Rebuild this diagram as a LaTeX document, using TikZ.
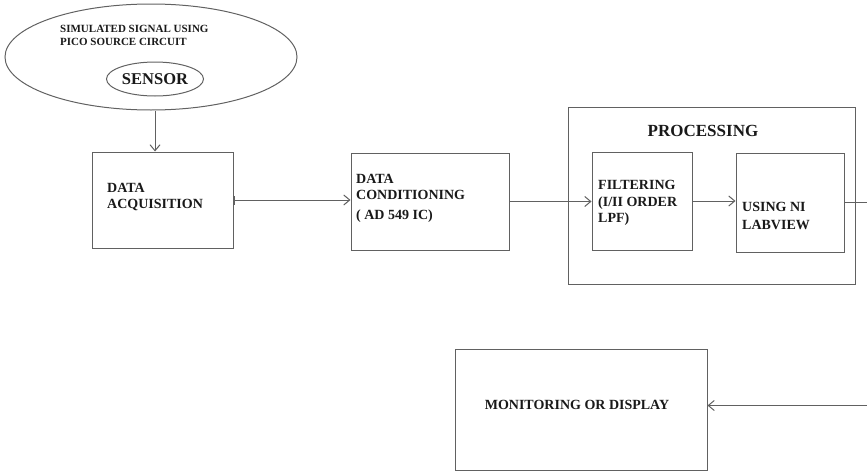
\documentclass[tikz,border=0pt]{standalone}
\usepackage{fontspec}
\setmainfont{Liberation Serif}
\usetikzlibrary{arrows.meta, shapes.geometric, positioning}

\begin{document}
\begin{tikzpicture}
    [x=1pt, y=-1pt,
    every node/.style={text=black!90},
    conn/.style={draw=black!62, line width=1pt},
    blockbox/.style={conn, rectangle, inner sep=0pt},
    boxtext/.style={anchor=west, align=left, inner sep=0pt, font=\fontsize{14}{16.5}\selectfont\bfseries},
    arr/.style={conn, -{Straight Barb[length=6pt, width=10pt]}},
    bararr/.style={conn, {Bar[width=9pt]}-{Straight Barb[length=6pt, width=10pt]}}]
    \useasboundingbox (0,0) rectangle (867,471);
    \clip (0,0) rectangle (867,471);
    % source ellipses
    \node[conn, ellipse, minimum width=292pt, minimum height=106pt] (src) at (151,57) {};
    \node[boxtext, font=\fontsize{11}{13}\selectfont\bfseries] (srctxt) at (60,35.5) {SIMULATED SIGNAL USING\\PICO SOURCE CIRCUIT};
    \node[conn, ellipse, minimum width=97pt, minimum height=34pt, inner sep=0pt,
          font=\fontsize{16.5}{16.5}\selectfont\bfseries] (sens) at (155,79) {SENSOR};
    % blocks
    \node[blockbox, minimum width=141pt, minimum height=96pt] (acq) at (162.5,200) {};
    \node[blockbox, minimum width=158pt, minimum height=97pt] (cond) at (430,201.5) {};
    \node[blockbox, minimum width=287pt, minimum height=177pt] (proc) at (711.5,195.5) {};
    \node[blockbox, minimum width=100pt, minimum height=98pt] (filt) at (642,201) {};
    \node[blockbox, minimum width=108pt, minimum height=99pt] (lab) at (790,202.5) {};
    \node[blockbox, minimum width=252pt, minimum height=121pt] (mon) at (581,409.5) {};
    % texts
    \node[boxtext] (acqtxt) at (107,197) {DATA\\ACQUISITION};
    \node[boxtext] (condtxt) at (356,198) {DATA\\CONDITIONING\\[3pt]( AD 549 IC)};
    \node[font=\fontsize{17}{17}\selectfont\bfseries] (proctxt) at (703,131) {PROCESSING};
    \node[boxtext] (filttxt) at (598,203) {FILTERING\\(I/II ORDER\\LPF)};
    \node[boxtext, font=\fontsize{14}{18}\selectfont\bfseries] (labtxt) at (742,216) {USING NI\\LABVIEW};
    \node[font=\fontsize{14}{14}\selectfont\bfseries] (montxt) at (577,405) {MONITORING OR DISPLAY};
    % connectors
    \draw[arr] (sens.south |- src.south) -- (sens.south |- acq.north);
    \draw[bararr] (acq.east) -- (acq.east -| cond.west);
    \draw[arr] (cond.east) -- (cond.east -| filt.west);
    \draw[arr] (filt.east) -- (filt.east -| lab.west);
    \draw[arr] (lab.east) -- ++(40,0) |- ([yshift=4pt]mon.east);
\end{tikzpicture}
\end{document}
